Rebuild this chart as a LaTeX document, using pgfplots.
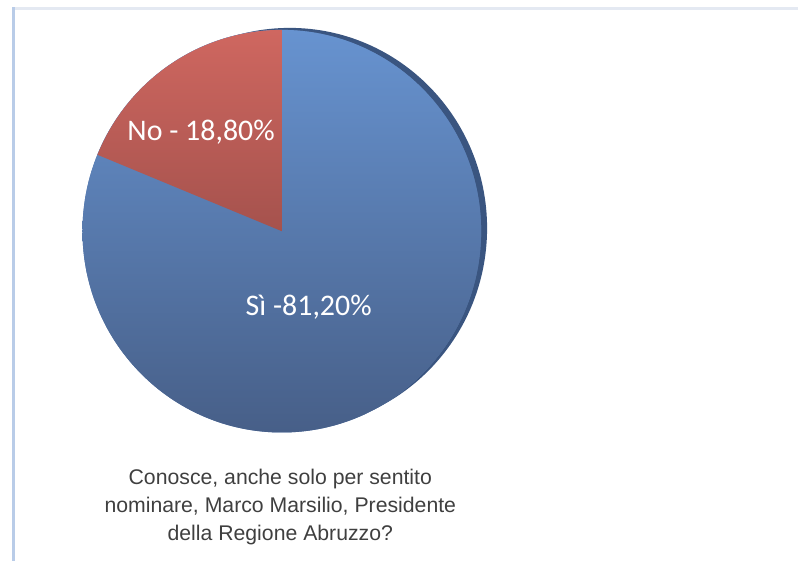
\documentclass[border=0pt]{standalone}
\usepackage{pgfplots}
\pgfplotsset{compat=1.18}
\usepackage{pgfplotstable}
\usepackage{fontspec}
\setmainfont{Liberation Sans}
\newfontfamily\lblfont{Carlito}

\definecolor{siTop}{HTML}{6793D0}
\definecolor{siBot}{HTML}{475F88}
\definecolor{noTop}{HTML}{CF6760}
\definecolor{noBot}{HTML}{A5524D}
\definecolor{rim}{HTML}{3A5580}
\definecolor{frameL}{HTML}{B9CCE8}
\definecolor{frameT}{HTML}{E4E9F2}
\definecolor{qtext}{HTML}{3F3F3F}

% percentuali
\pgfplotstableread{
label value
No    18.8
Si    81.2
}\piedata

\begin{document}
\pgfplotstablegetelem{0}{value}\of\piedata \let\vNo\pgfplotsretval
\pgfmathsetmacro{\aEnd}{90+3.6*\vNo}
\begin{tikzpicture}
\begin{axis}[width=798bp, height=563bp, scale only axis,
             xmin=0, xmax=798, ymin=0, ymax=563,
             hide axis, clip=false]
  \path (axis cs:0,0) rectangle (axis cs:798,563);
  % cornice
  \fill[frameT] (axis cs:9,553) rectangle (axis cs:798,555.5);
  \fill[frameL] (axis cs:9,0) rectangle (axis cs:12,555.5);
  % bordo scuro
  \fill[rim] (axis cs:288,334) ellipse [x radius=198bp, y radius=201bp];
  % Si
  \fill[siTop!50!siBot] (axis cs:280,331) ellipse [x radius=200bp, y radius=202bp];
  \shade[top color=siTop, bottom color=siBot]
    (axis cs:280,331) ellipse [x radius=200bp, y radius=202bp];
  % No
  \shade[top color=noTop, bottom color=noBot]
    (axis cs:280,331) -- ++(0,202bp)
    arc[start angle=90, end angle=\aEnd, x radius=200bp, y radius=202bp] -- cycle;
  \node[text=white, font=\lblfont\fontsize{30bp}{34bp}\selectfont]
    at (axis cs:199,430) {No - 18,80\%};
  \node[text=white, font=\lblfont\fontsize{30bp}{34bp}\selectfont]
    at (axis cs:307,255) {Sì -81,20\%};
  \node[text=qtext, align=center, font=\fontsize{21.3bp}{28bp}\selectfont]
    at (axis cs:278.5,54) {Conosce, anche solo per sentito\\nominare, Marco Marsilio, Presidente\\della Regione Abruzzo?};
\end{axis}
\end{tikzpicture}
\end{document}
